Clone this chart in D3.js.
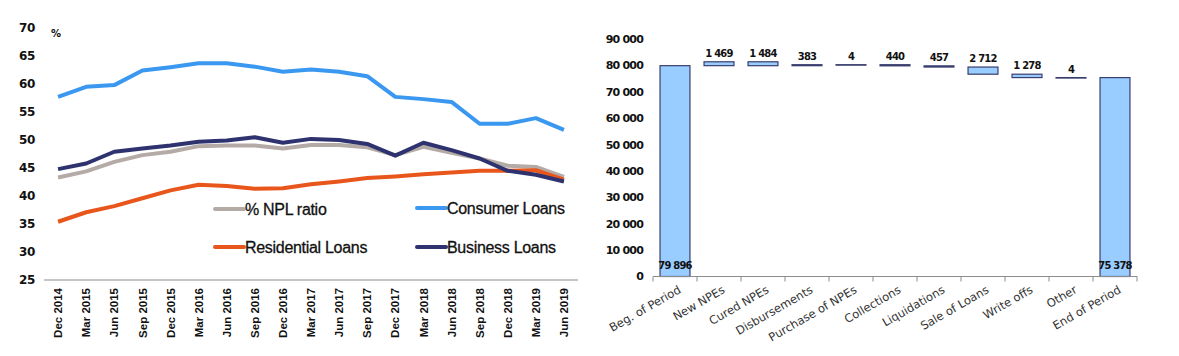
<!DOCTYPE html>
<html><head><meta charset="utf-8">
<script src="https://cdn.jsdelivr.net/npm/d3@7"></script>
<style>body{margin:0;background:#fff}svg{display:block}</style>
</head><body>
<svg id="c" width="1179" height="356"></svg>
<script>
// ---- Left chart data (%)
const periods = ["Dec 2014","Mar 2015","Jun 2015","Sep 2015","Dec 2015","Mar 2016","Jun 2016","Sep 2016","Dec 2016","Mar 2017","Jun 2017","Sep 2017","Dec 2017","Mar 2018","Jun 2018","Sep 2018","Dec 2018","Mar 2019","Jun 2019"];
const nplRatio    = [43.3,44.4,46.1,47.3,47.9,48.9,49.0,49.0,48.5,49.1,49.1,48.7,47.3,48.8,47.7,46.7,45.4,45.2,43.4];
const consumer    = [57.7,59.5,59.8,62.4,63.0,63.7,63.7,63.1,62.2,62.6,62.2,61.4,57.7,57.3,56.8,52.9,52.9,53.9,51.8];
const residential = [35.4,37.1,38.2,39.6,41.0,42.0,41.8,41.3,41.4,42.1,42.6,43.2,43.5,43.9,44.2,44.5,44.5,44.6,42.9];
const business    = [44.8,45.8,47.9,48.5,49.0,49.7,49.9,50.5,49.5,50.2,50.0,49.3,47.2,49.5,48.2,46.7,44.5,43.8,42.6];
const leftTicks   = [25,30,35,40,45,50,55,60,65,70];

// ---- Right chart data (waterfall)
const wfCats   = ["Beg. of Period","New NPEs","Cured NPEs","Disbursements","Purchase of NPEs","Collections","Liquidations","Sale of Loans","Write offs","Other","End of Period"];
const wfValues = [79896, 1469, -1484, 383, 4, -440, -457, -2712, -1278, -4, 75378];
const wfLabels = ["79 896","1 469","1 484","383","4","440","457","2 712","1 278","4","75 378"];
const rightTicks = [0,10000,20000,30000,40000,50000,60000,70000,80000,90000];

const svg = d3.select("#c");
const numFont = "DejaVu Sans";

// ================= LEFT =================
const xL = d3.scaleBand().domain(periods).range([44,578]);
const yL = d3.scaleLinear().domain([25,70]).range([280,28]);

svg.append("line").attr("x1",44).attr("x2",578).attr("y1",yL(25)).attr("y2",yL(25))
  .attr("stroke","#8c8c8c").attr("stroke-width",1.2);

svg.append("g").selectAll("text").data(leftTicks).join("text")
  .attr("x",35).attr("y",d=>yL(d)).attr("dy","0.36em").attr("text-anchor","end")
  .attr("font-family",numFont).attr("font-weight","bold").attr("font-size",12).attr("fill","#111")
  .attr("letter-spacing",-0.3)
  .text(d=>d);

svg.append("text").attr("x",51).attr("y",37).attr("font-family",numFont).attr("font-weight","bold")
  .attr("font-size",10).attr("fill","#111").text("%");

svg.append("g").selectAll("text").data(periods).join("text")
  .attr("transform",d=>`translate(${xL(d)+xL.bandwidth()/2},288) rotate(-90)`)
  .attr("dy","0.36em").attr("text-anchor","end")
  .attr("font-family","Liberation Sans").attr("font-weight","bold").attr("font-size",11.5).attr("fill","#111")
  .text(d=>d);

const series = [
  {name:"% NPL ratio", data:nplRatio, color:"#b4aaa6"},
  {name:"Residential Loans", data:residential, color:"#e8561c"},
  {name:"Consumer Loans", data:consumer, color:"#3a98f0"},
  {name:"Business Loans", data:business, color:"#2e336f"}
];
const line = d3.line().x((d,i)=>xL(periods[i])+xL.bandwidth()/2).y(d=>yL(d));
svg.append("g").selectAll("path").data(series).join("path")
  .attr("d",s=>line(s.data)).attr("fill","none").attr("stroke",s=>s.color)
  .attr("stroke-width",4).attr("stroke-linejoin","round").attr("stroke-linecap","butt");

const legPos = [[215,209],[215,247],[417,208],[417,247]];
const lg = svg.append("g").selectAll("g").data(series).join("g")
  .attr("transform",(s,i)=>`translate(${legPos[i][0]},${legPos[i][1]})`);
lg.append("line").attr("x1",0).attr("x2",29).attr("stroke",s=>s.color).attr("stroke-width",4).attr("stroke-linecap","round");
lg.append("text").attr("x",30).attr("dy","0.36em").attr("font-family","Liberation Sans")
  .attr("font-size",16).attr("letter-spacing",-0.3).attr("fill","#111")
  .attr("stroke","#111").attr("stroke-width",0.3).text(s=>s.name);

// ================= RIGHT =================
const xR = d3.scaleBand().domain(wfCats).range([653,1137]).paddingInner(0.32).paddingOuter(0.16);
const yR = d3.scaleLinear().domain([0,90000]).range([276.5,39]);

// compute waterfall
let run = 0;
const bars = wfCats.map((c,i)=>{
  const v = wfValues[i];
  let y0,y1;
  if(i===0 || i===wfCats.length-1){ y0=0; y1=v; run=v; }
  else { y0=run; y1=run+v; run=y1; }
  return {cat:c, lo:Math.min(y0,y1), hi:Math.max(y0,y1), total:(i===0||i===wfCats.length-1), label:wfLabels[i]};
});

svg.append("g").selectAll("text").data(rightTicks).join("text")
  .attr("x",643).attr("y",d=>yR(d)).attr("dy","0.36em").attr("text-anchor","end")
  .attr("font-family",numFont).attr("font-weight","bold").attr("font-size",11).attr("fill","#111")
  .attr("letter-spacing",-0.8)
  .text(d=>d3.format(",")(d).replace(/,/g," "));

svg.append("g").selectAll("rect").data(bars).join("rect")
  .attr("x",d=>xR(d.cat)).attr("width",xR.bandwidth())
  .attr("y",d=>yR(d.hi)).attr("height",d=>Math.max(0.5,yR(d.lo)-yR(d.hi)))
  .attr("fill","#99ccff").attr("stroke","#3a3e6e").attr("stroke-width",1.2);

// x axis
const axisStart = 653, axisEnd = 1137;
svg.append("line").attr("x1",axisStart).attr("x2",axisEnd).attr("y1",yR(0)).attr("y2",yR(0))
  .attr("stroke","#8c8c8c").attr("stroke-width",1.2);
svg.append("g").selectAll("line").data(d3.range(wfCats.length+1)).join("line")
  .attr("x1",i=>axisStart+i*(axisEnd-axisStart)/wfCats.length).attr("x2",i=>axisStart+i*(axisEnd-axisStart)/wfCats.length)
  .attr("y1",yR(0)).attr("y2",yR(0)+5).attr("stroke","#8c8c8c").attr("stroke-width",1);

svg.append("g").selectAll("text").data(wfCats).join("text")
  .attr("transform",d=>`translate(${xR(d)+xR.bandwidth()/2+5},289) rotate(-30)`)
  .attr("text-anchor","end").attr("dy","0.3em")
  .attr("font-family","DejaVu Sans").attr("font-size",11.5).attr("fill","#333")
  .text(d=>d);

// value labels
svg.append("g").selectAll("text").data(bars).join("text")
  .attr("x",d=>xR(d.cat)+xR.bandwidth()/2)
  .attr("y",d=>d.total ? yR(0)-8 : yR(d.hi)-5)
  .attr("text-anchor","middle")
  .attr("font-family",numFont).attr("font-weight","bold").attr("font-size",10).attr("fill","#111")
  .attr("letter-spacing",-0.8)
  .text(d=>d.label);
</script>
</body></html>
